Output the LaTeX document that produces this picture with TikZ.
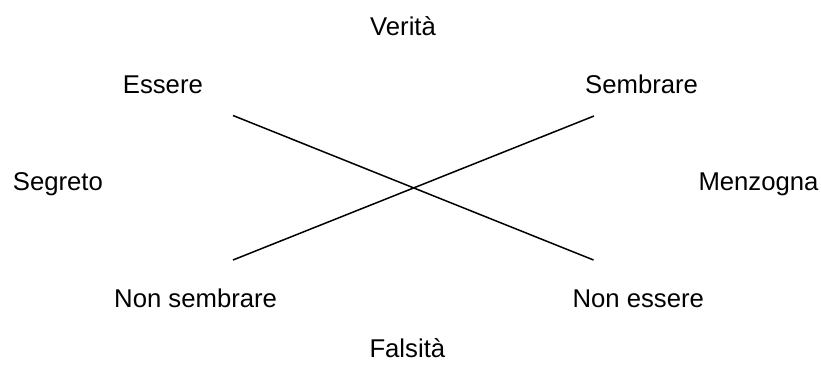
\documentclass[tikz,border=0pt]{standalone}
\usepackage{fontspec}
\setmainfont{Liberation Sans}
\begin{document}
\begin{tikzpicture}[x=1pt,y=1pt,
  lbl/.style={anchor=base west,inner sep=0pt,font=\fontsize{25.7}{30}\selectfont},
  cross/.style={line width=1.5pt}]
\useasboundingbox (0,0) rectangle (821,372);
% labels
\node[lbl] (verita)   at (370,336) {Verità};
\node[lbl] (essere)   at (122.7,278) {Essere};
\node[lbl] (sembrare) at (585,278) {Sembrare};
\node[lbl] (segreto)  at (12.7,181) {Segreto};
\node[lbl] (menzogna) at (698.3,181) {Menzogna};
\node[lbl] (nonsemb)  at (114,64) {Non sembrare};
\node[lbl] (nonessere) at (572.3,64) {Non essere};
\node[lbl] (falsita)  at (369.3,15) {Falsità};
% crossing lines
\coordinate (tl) at (233,256.5);
\coordinate (br) at (593.5,112);
\coordinate (bl) at (233,112);
\coordinate (tr) at (594,256);
\draw[cross] (tl) -- (br);
\draw[cross] (bl) -- (tr);
\end{tikzpicture}
\end{document}
